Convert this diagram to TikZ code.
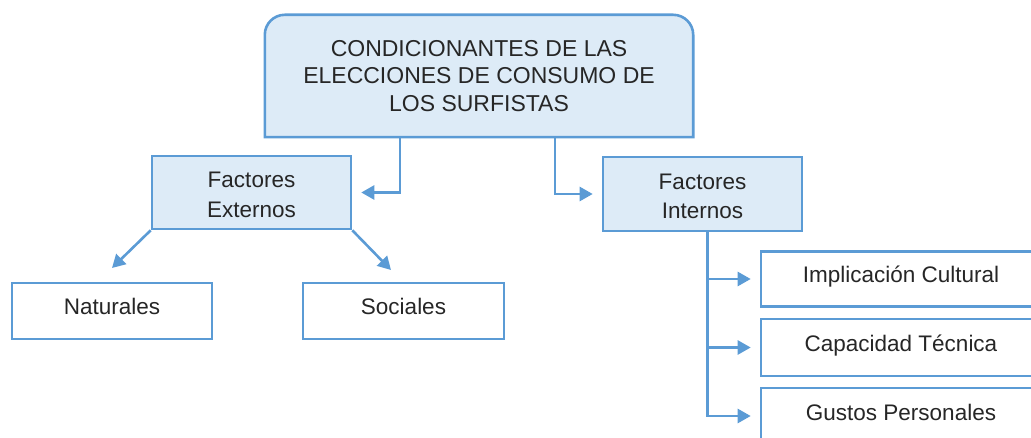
\documentclass[tikz,border=0pt]{standalone}
\usepackage{fontspec}
\setmainfont{Liberation Sans}
\usetikzlibrary{arrows.meta,backgrounds}
\definecolor{bord}{HTML}{5B9BD5}
\definecolor{fillb}{HTML}{DDEBF7}
\definecolor{txt}{HTML}{262626}
\begin{document}
\begin{tikzpicture}[x=1pt,y=-1pt,
  every node/.style={font=\fontsize{22.5}{29}\selectfont, text=txt, align=center, inner sep=0pt},
  bluebox/.style={draw=bord, line width=2.6pt, fill=fillb},
  whitebox/.style={draw=bord, line width=2.6pt, fill=white, text height=16pt, text depth=8pt},
  conn/.style={draw=bord, line width=2.6pt, -{Triangle[length=13pt,width=14pt]}}]
\useasboundingbox (0,0) rectangle (1031,438);
% top box (text node, border drawn behind)
\node[minimum width=428pt, minimum height=122pt, font=\fontsize{23}{27.5}\selectfont] (top) at (479,76)
  {CONDICIONANTES DE LAS\\ELECCIONES DE CONSUMO DE\\LOS SURFISTAS};
\begin{scope}[on background layer]
\draw[bluebox] (top.south west) -- ([yshift=-20pt]top.north west)
  arc[start angle=180, end angle=90, radius=20pt]
  -- ([xshift=-20pt]top.north east)
  arc[start angle=90, end angle=0, radius=20pt]
  -- (top.south east) -- cycle;
\end{scope}
% second level
\node[bluebox, minimum width=199pt, minimum height=73pt] (fe) at (251.5,192.5) {\raisebox{-25pt}[0pt][0pt]{\shortstack{Factores\\[11pt]Externos}}};
\node[bluebox, minimum width=199pt, minimum height=74pt] (fi) at (702.5,194) {\raisebox{-25pt}[0pt][0pt]{\shortstack{Factores\\[11pt]Internos}}};
% third level left
\node[whitebox, minimum width=200pt, minimum height=56pt] (nat) at (112,311) {Naturales};
\node[whitebox, minimum width=201pt, minimum height=56pt] (soc) at (403.5,311) {Sociales};
% third level right
\node[whitebox, minimum width=280pt, minimum height=55pt] (imp) at (901,279) {Implicación Cultural};
\node[whitebox, minimum width=280pt, minimum height=57pt] (cap) at (901,347.5) {Capacidad Técnica};
\node[whitebox, minimum width=280pt, minimum height=56pt] (gus) at (901,416) {Gustos Personales};
% connectors
\draw[conn, shorten >=9pt] ([xshift=-79pt]top.south) |- (fe.east);
\draw[conn, shorten >=9pt] ([xshift=76pt]top.south) |- (fi.west);
\coordinate (natTip) at (112,268);
\coordinate (socTip) at (391,270);
\draw[conn] (fe.south west) -- (natTip);
\draw[conn] (fe.south east) -- (socTip);
\coordinate (trunk) at ([xshift=5pt]fi.south);
\draw[conn, shorten >=9pt] (trunk) |- (gus.west);
\draw[conn, shorten >=9pt] (imp.west -| trunk) -- (imp.west);
\draw[conn, shorten >=9pt] (cap.west -| trunk) -- (cap.west);
\end{tikzpicture}
\end{document}
